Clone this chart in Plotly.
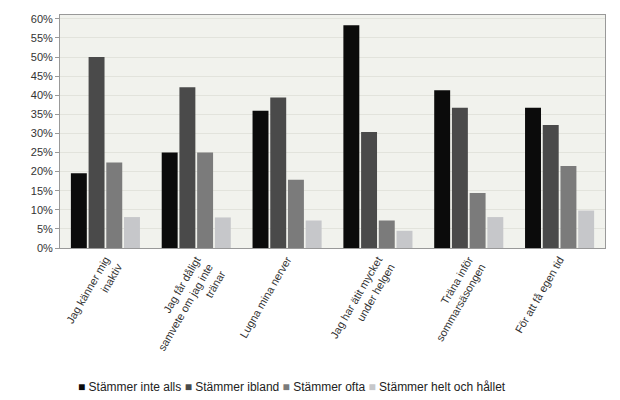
import plotly.graph_objects as go

categories = [
    "Jag känner mig<br>inaktiv",
    "Jag får dåligt<br>samvete om jag inte<br>tränar",
    "Lugna mina nerver",
    "Jag har ätit mycket<br>under helgen",
    "Träna inför<br>sommarsäsongen",
    "För att få egen tid",
]
series_names = ["Stämmer inte alls", "Stämmer ibland", "Stämmer ofta", "Stämmer helt och hållet"]
inte_alls = [19.6, 25.0, 35.9, 58.3, 41.3, 36.7]
ibland = [50.0, 42.1, 39.4, 30.4, 36.7, 32.2]
ofta = [22.4, 25.0, 17.9, 7.2, 14.4, 21.5]
helt = [8.1, 8.0, 7.2, 4.5, 8.1, 9.8]
yticks = list(range(0, 61, 5))
ylabels = [f"{v}%" for v in yticks]

colors = ["#0b0b0b", "#4a4a4a", "#7b7b7b", "#c6c7ca"]
values = [inte_alls, ibland, ofta, helt]

fig = go.Figure()
for name, vals, col in zip(series_names, values, colors):
    fig.add_trace(go.Bar(x=categories, y=vals, name=name, showlegend=False,
                         marker=dict(color=col, line=dict(width=0))))

# compact legend like the original (square + label)
legend_text = " ".join(f'<span style="color:{c}">■</span> {n}' for n, c in zip(series_names, colors))
fig.add_annotation(text=legend_text, xref="paper", yref="paper", x=0.426, y=-0.597,
                   xanchor="center", yanchor="middle", showarrow=False,
                   font=dict(size=12, color="#222222"))

# page body has an 8px margin, so the figure is a bit smaller than the window
fig.update_layout(
    width=612, height=392,
    barmode="group", bargap=0.22, bargroupgap=0.1,
    margin=dict(l=52, r=15, t=7, b=152),
    paper_bgcolor="white", plot_bgcolor="#f1f2ed",
    font=dict(family="Liberation Sans, Arial", size=11, color="#333333"),
    xaxis=dict(tickangle=-60, showline=True, linecolor="#999999", mirror=True,
               ticks="", automargin=False, tickfont=dict(size=11, color="#333333")),
    yaxis=dict(range=[0, 61], tickvals=yticks, ticktext=ylabels, ticks="outside",
               ticklen=4, tickcolor="#999999", showline=True, linecolor="#999999",
               mirror=True, gridcolor="#e2e3dc", zeroline=False, automargin=False,
               tickfont=dict(size=11, color="#333333")),
)

fig.write_html("out.html")
